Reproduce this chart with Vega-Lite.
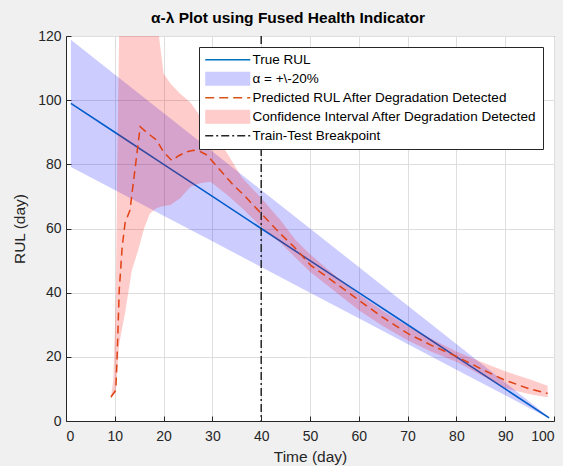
{
  "$schema": "https://vega.github.io/schema/vega-lite/v6.json",
  "width": 488,
  "height": 385,
  "autosize": {"type": "none"},
  "padding": {"left": 66, "top": 36, "right": 9, "bottom": 45},
  "background": "#f0f0f0",
  "title": {
    "text": "α-λ Plot using Fused Health Indicator",
    "font": "Liberation Sans",
    "fontSize": 15.5,
    "fontWeight": "bold",
    "color": "#000000",
    "anchor": "middle",
    "frame": "group",
    "offset": 3,
    "dx": -22
  },
  "config": {
    "font": "Liberation Sans",
    "view": {"stroke": "#262626", "strokeWidth": 1, "fill": "white"},
    "axis": {
      "domainColor": "#262626",
      "domainWidth": 1,
      "tickColor": "#262626",
      "tickWidth": 1,
      "tickSize": -5,
      "labelFont": "Liberation Sans",
      "labelFontSize": 14,
      "labelColor": "#262626",
      "titleFont": "Liberation Sans",
      "titleFontSize": 15.5,
      "titleFontWeight": "normal",
      "titleColor": "#262626",
      "gridColor": "#dedede",
      "gridWidth": 1,
      "grid": true
    }
  },
  "datasets": {
    "truth": [
      {"t": 1, "rul": 99, "lo": 79.2, "hi": 118.8},
      {"t": 10, "rul": 90, "lo": 72, "hi": 108},
      {"t": 20, "rul": 80, "lo": 64, "hi": 96},
      {"t": 30, "rul": 70, "lo": 56, "hi": 84},
      {"t": 40, "rul": 60, "lo": 48, "hi": 72},
      {"t": 50, "rul": 50, "lo": 40, "hi": 60},
      {"t": 60, "rul": 40, "lo": 32, "hi": 48},
      {"t": 70, "rul": 30, "lo": 24, "hi": 36},
      {"t": 80, "rul": 20, "lo": 16, "hi": 24},
      {"t": 90, "rul": 10, "lo": 8, "hi": 12},
      {"t": 99, "rul": 1, "lo": 0.8, "hi": 1.2}
    ],
    "pred": [
      {"t": 9.2, "rul": 7.5}, {"t": 10.2, "rul": 9.6}, {"t": 10.5, "rul": 21},
      {"t": 10.9, "rul": 40.5}, {"t": 11.5, "rul": 54}, {"t": 12.1, "rul": 61.7},
      {"t": 13.1, "rul": 65.7}, {"t": 14.2, "rul": 79.2}, {"t": 15.2, "rul": 91.7},
      {"t": 16.5, "rul": 90}, {"t": 18.6, "rul": 87.5}, {"t": 20, "rul": 83.8},
      {"t": 21.7, "rul": 81.2}, {"t": 23, "rul": 82.6}, {"t": 24.5, "rul": 83.8},
      {"t": 26.1, "rul": 84.4}, {"t": 27.5, "rul": 84}, {"t": 28.9, "rul": 82.9},
      {"t": 31, "rul": 79.2}, {"t": 34.3, "rul": 73.5}, {"t": 36.4, "rul": 70.5},
      {"t": 39.8, "rul": 65}, {"t": 43.9, "rul": 58.4}, {"t": 46.7, "rul": 54.3},
      {"t": 50.1, "rul": 48.6}, {"t": 56.3, "rul": 41.8}, {"t": 60.4, "rul": 37.2},
      {"t": 65, "rul": 32.2}, {"t": 70, "rul": 27.3}, {"t": 75, "rul": 23.5},
      {"t": 80.2, "rul": 20}, {"t": 85, "rul": 16.3}, {"t": 89.8, "rul": 12.8},
      {"t": 95, "rul": 10}, {"t": 98.7, "rul": 8.6}
    ],
    "ci": [
      {"t": 9.2, "lo": 7, "hi": 7.5}, {"t": 9.7, "lo": 8, "hi": 12.8},
      {"t": 10.2, "lo": 9, "hi": 37.7}, {"t": 10.5, "lo": 15, "hi": 80},
      {"t": 10.9, "lo": 24, "hi": 122}, {"t": 11.5, "lo": 29, "hi": 135},
      {"t": 12.1, "lo": 33.6, "hi": 140}, {"t": 13.5, "lo": 47, "hi": 140},
      {"t": 14.8, "lo": 53.3, "hi": 140}, {"t": 16, "lo": 60, "hi": 140},
      {"t": 17.2, "lo": 64.7, "hi": 135}, {"t": 18.5, "lo": 66.3, "hi": 128},
      {"t": 19.2, "lo": 66.7, "hi": 118}, {"t": 20, "lo": 67, "hi": 108.3},
      {"t": 21.4, "lo": 67.3, "hi": 105.2}, {"t": 23.4, "lo": 69.4, "hi": 102},
      {"t": 25.5, "lo": 73, "hi": 99.3}, {"t": 27.5, "lo": 74.1, "hi": 95},
      {"t": 29.6, "lo": 74.6, "hi": 91.2}, {"t": 33, "lo": 70.5, "hi": 83.5},
      {"t": 36, "lo": 66.5, "hi": 76}, {"t": 40, "lo": 60.5, "hi": 69.5},
      {"t": 44, "lo": 55.5, "hi": 62.5}, {"t": 47, "lo": 51, "hi": 56.5},
      {"t": 50, "lo": 46.5, "hi": 52}, {"t": 55, "lo": 40.5, "hi": 45.5},
      {"t": 60, "lo": 34.5, "hi": 39.5}, {"t": 65, "lo": 29.5, "hi": 34.3},
      {"t": 70, "lo": 25.2, "hi": 29.5}, {"t": 75, "lo": 21.5, "hi": 25.5},
      {"t": 80, "lo": 18.5, "hi": 21.7}, {"t": 85, "lo": 14.3, "hi": 18.5},
      {"t": 90, "lo": 10.2, "hi": 15.5}, {"t": 95, "lo": 8.3, "hi": 13},
      {"t": 98.7, "lo": 7.4, "hi": 11}
    ]
  },
  "layer": [
    {
      "data": {"name": "truth"},
      "mark": {"type": "line", "strokeWidth": 1.5},
      "encoding": {
        "x": {
          "field": "t", "type": "quantitative",
          "scale": {"domain": [0, 100], "nice": false},
          "axis": {"title": "Time (day)", "values": [0,10,20,30,40,50,60,70,80,90,100], "labelPadding": 13, "titlePadding": 6}
        },
        "y": {
          "field": "rul", "type": "quantitative",
          "scale": {"domain": [0, 120], "nice": false},
          "axis": {"title": "RUL (day)", "values": [0,20,40,60,80,100,120], "labelPadding": 10, "titlePadding": 10}
        },
        "color": {
          "datum": "True RUL",
          "scale": {
            "domain": ["True RUL", "α = +\\-20%", "Predicted RUL After Degradation Detected", "Confidence Interval After Degradation Detected", "Train-Test Breakpoint"],
            "range": ["#0072BD", "#0000ff", "#D95319", "#ff0000", "#262626"]
          },
          "legend": {
            "title": null,
            "orient": "top-right",
            "offset": 11,
            "fillColor": "white",
            "strokeColor": "#262626",
            "padding": 6,
            "labelFont": "Liberation Sans",
            "labelFontSize": 13.5,
            "labelColor": "#000000",
            "labelLimit": 400,
            "rowPadding": 4,
            "symbolSize": 127,
            "symbolOffset": 16,
            "labelOffset": 18,
            "encode": {
              "symbols": {
                "update": {
                  "shape": {"signal": "datum.index == 1 || datum.index == 3 ? 'M-4,-1.25H4V1.25H-4Z' : 'M-4,0H4'"},
                  "fill": {"signal": "datum.index == 1 ? '#0000ff' : datum.index == 3 ? '#ff0000' : 'transparent'"},
                  "fillOpacity": {"signal": "datum.index == 1 || datum.index == 3 ? 0.2 : 0"},
                  "stroke": {"signal": "datum.index == 0 ? '#0072BD' : datum.index == 2 ? '#D95319' : datum.index == 4 ? '#262626' : 'transparent'"},
                  "strokeWidth": {"signal": "datum.index == 1 || datum.index == 3 ? 0 : 1.5"},
                  "strokeDash": {"signal": "datum.index == 2 ? [9,5] : datum.index == 4 ? [8,3,2,3] : [1,0]"},
                  "opacity": {"value": 1},
                  "strokeOpacity": {"value": 1}
                }
              }
            }
          }
        }
      }
    },
    {
      "data": {"name": "truth"},
      "mark": {"type": "area", "opacity": 0.2},
      "encoding": {
        "x": {"field": "t", "type": "quantitative"},
        "y": {"field": "lo", "type": "quantitative"},
        "y2": {"field": "hi"},
        "color": {"datum": "α = +\\-20%"}
      }
    },
    {
      "data": {"name": "pred"},
      "mark": {"type": "line", "strokeWidth": 1.5, "strokeDash": [8, 5]},
      "encoding": {
        "x": {"field": "t", "type": "quantitative"},
        "y": {"field": "rul", "type": "quantitative"},
        "color": {"datum": "Predicted RUL After Degradation Detected"}
      }
    },
    {
      "data": {"name": "ci"},
      "mark": {"type": "area", "opacity": 0.2, "clip": true},
      "encoding": {
        "x": {"field": "t", "type": "quantitative"},
        "y": {"field": "lo", "type": "quantitative"},
        "y2": {"field": "hi"},
        "color": {"datum": "Confidence Interval After Degradation Detected"}
      }
    },
    {
      "data": {"values": [{"bp": 40}]},
      "mark": {"type": "rule", "strokeWidth": 1.5, "strokeDash": [8, 3, 2, 3]},
      "encoding": {
        "x": {"field": "bp", "type": "quantitative"},
        "color": {"datum": "Train-Test Breakpoint"}
      }
    }
  ]
}
